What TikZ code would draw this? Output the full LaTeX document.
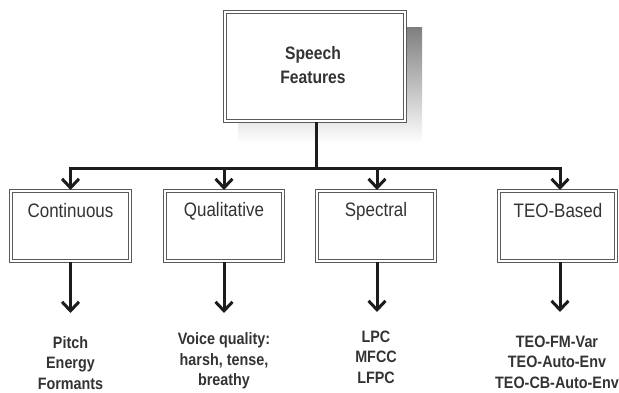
\documentclass[tikz,border=0pt]{standalone}
\usepackage{fontspec}
\setmainfont{Liberation Sans}
\newfontfamily\condfont[FakeStretch=0.87]{Liberation Sans}
\usetikzlibrary{arrows.meta}
\definecolor{ink}{HTML}{1C1C1C}
\definecolor{boxline}{HTML}{5A5A5A}
\definecolor{txt}{HTML}{333333}
\definecolor{shade}{HTML}{C9C9C9}
\begin{document}
\begin{tikzpicture}[x=1pt,y=-1pt,
  dbox/.style={draw=boxline, line width=1.3pt, double=white, double distance=2pt, fill=white},
  conn/.style={draw=ink, line width=3pt},
  arr/.style={conn, -{Straight Barb[length=9pt,width=17pt]}},
  toplabel/.style={font=\condfont\fontsize{18}{24}\selectfont\bfseries, text=txt, align=center},
  catlabel/.style={font=\condfont\fontsize{19.5}{22}\selectfont, text=txt},
  reslabel/.style={font=\condfont\fontsize{16.5}{20.5}\selectfont\bfseries, text=txt, align=center}]
\useasboundingbox (0,0) rectangle (619,393);
% shadow of top box
\fill[shade] (238,28) rectangle (422,143);
% top box
\draw[dbox] (225,12) rectangle (405,121);
\node[toplabel] (top) at (313,65) {Speech\\Features};
\coordinate (topb) at (316,122);
% category boxes
\draw[dbox] (11,191) rectangle (130,261);
\draw[dbox] (165,191) rectangle (283,261);
\draw[dbox] (317,191) rectangle (435,261);
\draw[dbox] (499,191) rectangle (616,261);
\node[catlabel] (c1) at (70.5,211) {Continuous};
\node[catlabel] (c2) at (224,211) {Qualitative};
\node[catlabel] (c3) at (376,211) {Spectral};
\node[catlabel] (c4) at (558,211) {TEO-Based};
% connector coordinates
\coordinate (j) at (316,169);
\coordinate (h1) at (70.5,169);
\coordinate (h2) at (224,169);
\coordinate (h3) at (377,169);
\coordinate (h4) at (560,169);
\coordinate (t1) at (70.5,190);
\coordinate (t2) at (224,190);
\coordinate (t3) at (377,190);
\coordinate (t4) at (560,190);
\coordinate (b1) at (70.5,262);
\coordinate (b2) at (224,262);
\coordinate (b3) at (377,262);
\coordinate (b4) at (560,262);
\coordinate (e1) at (70.5,313);
\coordinate (e2) at (224,313);
\coordinate (e3) at (377,312);
\coordinate (e4) at (560,312);
% tree lines
\draw[conn] (topb) -- (j);
\draw[conn, line cap=rect] (h1) -- (h4);
\draw[arr] (h1) -- (t1);
\draw[arr] (h2) -- (t2);
\draw[arr] (h3) -- (t3);
\draw[arr] (h4) -- (t4);
\draw[arr] (b1) -- (e1);
\draw[arr] (b2) -- (e2);
\draw[arr] (b3) -- (e3);
\draw[arr] (b4) -- (e4);
% results
\node[reslabel] (r1) at (70.5,363) {Pitch\\Energy\\Formants};
\node[reslabel] (r2) at (224,361) {Voice quality:\\harsh, tense,\\breathy};
\node[reslabel] (r3) at (376,357) {LPC\\MFCC\\LFPC};
\node[reslabel] (r4) at (557,362) {TEO-FM-Var\\TEO-Auto-Env\\TEO-CB-Auto-Env};
\end{tikzpicture}
\end{document}
